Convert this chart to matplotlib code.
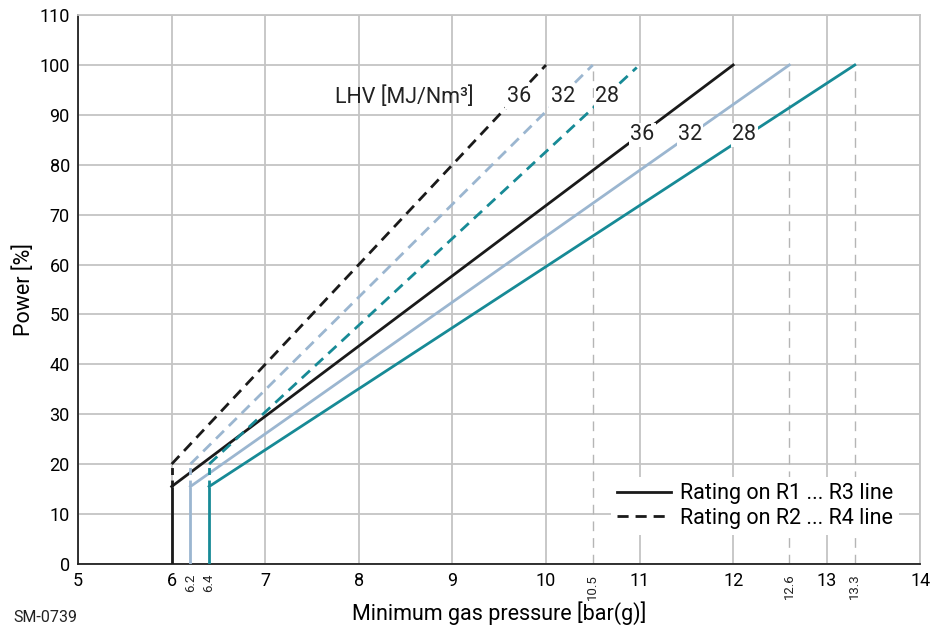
import numpy as np
import matplotlib.pyplot as plt
import matplotlib.transforms as mtransforms

plt.rcParams["font.family"] = ["Roboto", "DejaVu Sans"]

# LHV values [MJ/Nm3] and line colours
lhv = ["36", "32", "28"]
colors = ["#1a1a1a", "#9bb6d0", "#178a96"]

# minimum pressure at low load (vertical segments)
x_start = [6.0, 6.2, 6.4]
# R1 ... R3 line (solid)
solid_y_start = [15.5, 15.5, 15.5]
solid_x_end = [12.0, 12.6, 13.3]
# R2 ... R4 line (dashed)
dashed_y_start = [20.0, 20.0, 20.0]
dashed_x_end = [10.0, 10.5, 10.97]
dashed_y_end = [100.0, 100.0, 99.5]

# extra pressure marks
mark_x = [10.5, 12.6, 13.3]
extra_labels = [6.2, 6.4, 10.5, 12.6, 13.3]

fig = plt.figure(figsize=(9.41, 6.30), dpi=100)
ax = fig.add_axes([0.083, 0.105, 0.895, 0.871])

ax.set_xlim(5, 14)
ax.set_ylim(0, 110)
ax.set_xticks(np.arange(5, 15, 1))
ax.set_yticks(np.arange(0, 111, 10))
ax.tick_params(length=0, labelsize=13, pad=6)
ax.grid(True, color="#c4c4c4", linewidth=1.3, zorder=0)
ax.set_axisbelow(True)
for side in ["top", "right"]:
    ax.spines[side].set_color("#c4c4c4")
    ax.spines[side].set_linewidth(1.3)
for side in ["left", "bottom"]:
    ax.spines[side].set_color("#222222")
    ax.spines[side].set_linewidth(1.3)

# reference marks
for mx in mark_x:
    ax.plot([mx, mx], [0, 100], color="#b5b5b5", lw=1.0, ls=(0, (7, 5)), zorder=1)

for i in range(3):
    c = colors[i]
    x0 = x_start[i]
    ax.plot([x0, x0], [0, solid_y_start[i]], color=c, lw=2.0, zorder=3, solid_capstyle="butt")
    ax.plot([x0, solid_x_end[i]], [solid_y_start[i], 100], color=c, lw=2.0, zorder=3)
    ax.plot([x0, x0], [solid_y_start[i], dashed_y_start[i]], color=c, lw=2.0, ls=(0, (2.5, 2)), zorder=3)
    ax.plot([x0, dashed_x_end[i]], [dashed_y_start[i], dashed_y_end[i]], color=c, lw=2.0,
            ls=(0, (4, 2.5)), zorder=3)

# curve labels
ax.text(7.75, 93.6, "LHV [MJ/Nm³]", fontsize=15.5, color="#222222", ha="left", va="center", zorder=5)
for lbl, xp in zip(lhv, [9.71, 10.18, 10.65]):
    ax.text(xp, 93.6, lbl, fontsize=15.5, color="#222222", ha="center", va="center",
            bbox=dict(facecolor="white", edgecolor="none", pad=1), zorder=5)
for lbl, xp in zip(lhv, [11.03, 11.54, 12.12]):
    ax.text(xp, 86.0, lbl, fontsize=15.5, color="#222222", ha="center", va="center",
            bbox=dict(facecolor="white", edgecolor="none", pad=1), zorder=5)

# rotated extra tick labels
trans = mtransforms.blended_transform_factory(ax.transData, ax.transAxes)
for v in extra_labels:
    ax.text(v, -0.018, f"{v:g}", transform=trans, rotation=90, fontsize=9.5,
            ha="center", va="top", color="#222222")

ax.plot([], [], color="#1a1a1a", lw=2.0, label="Rating on R1 ... R3 line")
ax.plot([], [], color="#1a1a1a", lw=2.0, ls=(0, (4, 2.5)), label="Rating on R2 ... R4 line")
leg = ax.legend(loc="lower right", bbox_to_anchor=(0.988, 0.033), frameon=True, fontsize=15.5,
                handlelength=2.5, handletextpad=0.4, labelspacing=0.15, borderpad=0.3)
leg.get_frame().set_edgecolor("none")
leg.get_frame().set_facecolor("white")
leg.get_frame().set_alpha(1)
leg.set_zorder(6)

ax.set_xlabel("Minimum gas pressure [bar(g)]", fontsize=15.5, labelpad=8)
ax.set_ylabel("Power [%]", fontsize=15.5, labelpad=3)
fig.text(0.014, 0.013, "SM-0739", fontsize=11.5, color="#222222")

fig.savefig("out.png", dpi=100)
